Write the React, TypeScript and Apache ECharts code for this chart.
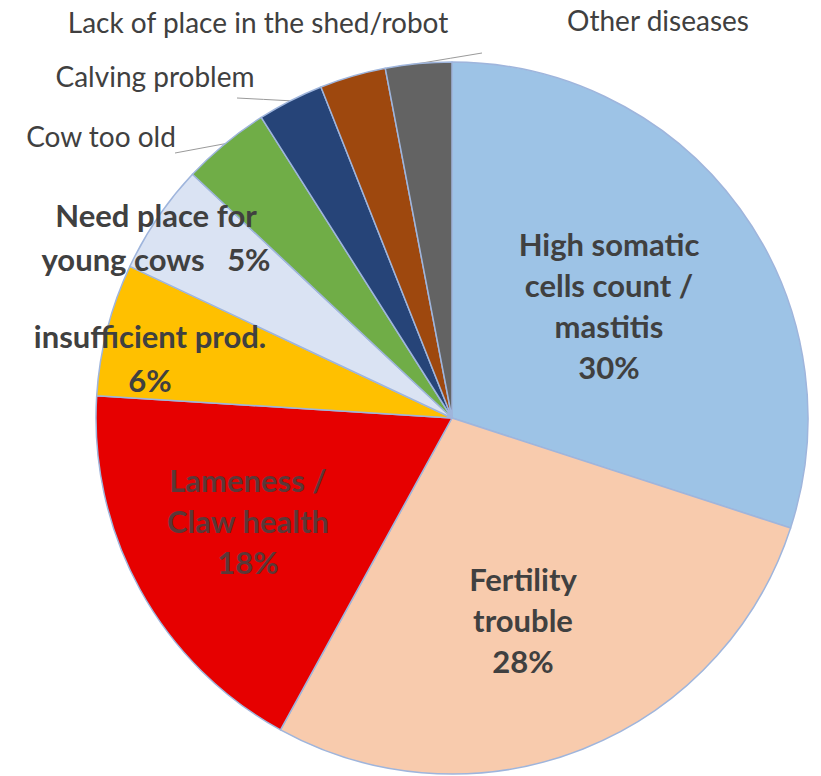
import React, { useEffect, useRef } from "react";
import * as echarts from "echarts";

// Reasons for culling, clockwise from 12 o'clock
const categories = [
  "High somatic cells count / mastitis",
  "Fertility trouble",
  "Lameness / Claw health",
  "insufficient prod.",
  "Need place for young cows",
  "Cow too old",
  "Calving problem",
  "Lack of place in the shed/robot",
  "Other diseases",
];
const shares = [30, 28, 18, 6, 5, 4, 3, 3, 3];
const sliceColors = [
  "#9dc3e6",
  "#f8cbad",
  "#e60000",
  "#ffc000",
  "#dae3f3",
  "#70ad47",
  "#264478",
  "#9e480e",
  "#636363",
];
// Text drawn for each slice ("{d}" is the share)
const labelTexts = [
  "High somatic\ncells count /\nmastitis\n{d}%",
  "Fertility\ntrouble\n{d}%",
  "Lameness /\nClaw health\n{d}%",
  "insufficient prod.\n{d}%",
  "Need place for\nyoung cows   {d}%",
  "Cow too old",
  "Calving problem",
  "Lack of place in the shed/robot",
  "Other diseases",
];

const FONT = "Lato, 'Open Sans', sans-serif";
const TEXT = "#404040";

// Label anchor points (centre of each label block)
const labelSpots: Record<number, [number, number]> = {
  0: [609, 305],
  1: [523, 620],
  2: [248, 521],
  3: [150, 358],
  4: [156, 237],
  5: [101, 136],
  6: [155, 76],
  7: [258, 22],
  8: [658, 20],
};
// Free ends of the leader lines
const leaderEnds: Record<number, [number, number]> = {
  5: [175, 153],
  6: [237, 98],
  8: [482, 53],
};

export default function App() {
  const ref = useRef<HTMLDivElement>(null);

  useEffect(() => {
    if (!ref.current) return;
    const chart = echarts.init(ref.current, undefined, { renderer: "svg" });

    const data = categories.map((name, i) => {
      const outside = i >= 5;
      return {
        name,
        value: shares[i],
        itemStyle: { color: sliceColors[i] },
        label: {
          show: true,
          position: outside ? "outside" : "inside",
          formatter: labelTexts[i],
          fontFamily: FONT,
          fontWeight: outside ? "normal" : "bold",
          fontSize: outside ? 28 : 31,
          lineHeight: outside ? 32 : i >= 3 ? 44 : 41,
          color: i === 2 ? "#5b3838" : TEXT,
          align: "center",
        },
        labelLine: {
          show: outside && i !== 7,
          lineStyle: { color: "#9a9a9a", width: 1 },
        },
      };
    });

    chart.setOption({
      animation: false,
      backgroundColor: "#ffffff",
      series: [
        {
          type: "pie",
          center: [452, 418],
          radius: [0, 356],
          startAngle: 90,
          clockwise: true,
          avoidLabelOverlap: false,
          itemStyle: { borderColor: "#9fb5dc", borderWidth: 1.5 },
          emphasis: { disabled: true },
          data,
          labelLayout: (params: any) => {
            const i = params.dataIndex;
            const [x, y] = labelSpots[i];
            const out: any = { x, y, align: "center", verticalAlign: "middle" };
            const end = leaderEnds[i];
            if (end && params.labelLinePoints) {
              const start = params.labelLinePoints[0];
              out.labelLinePoints = [
                start,
                [(start[0] + end[0]) / 2, (start[1] + end[1]) / 2],
                end,
              ];
            }
            return out;
          },
        },
      ],
    });

    return () => chart.dispose();
  }, []);

  return (
    <div
      ref={ref}
      style={{ position: "fixed", left: 0, top: 0, width: 821, height: 776 }}
    />
  );
}
